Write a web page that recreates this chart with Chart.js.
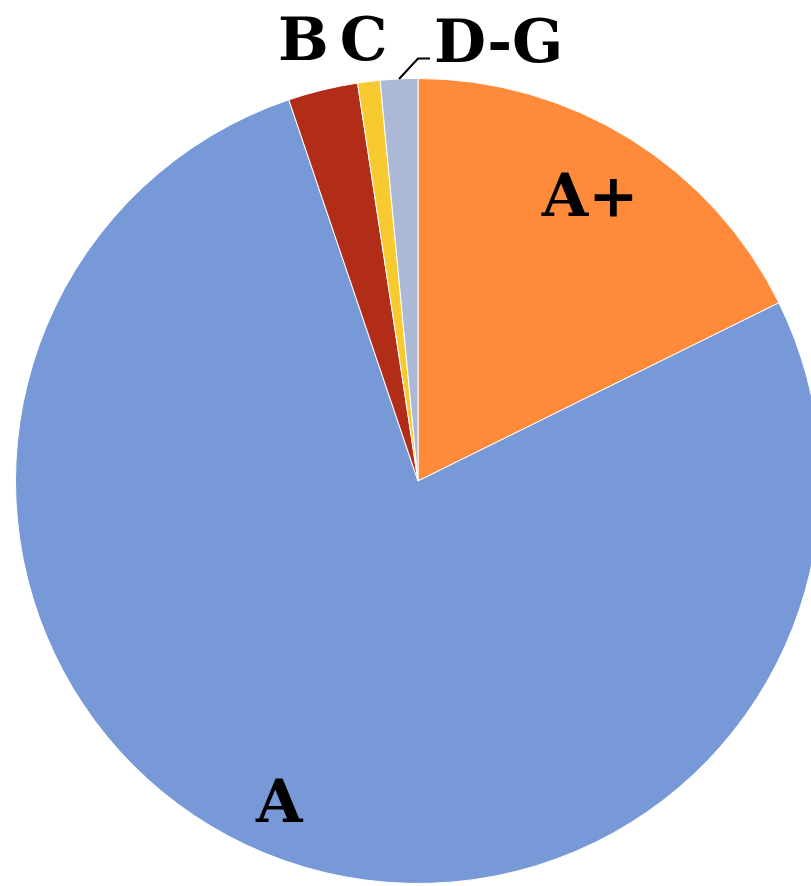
<!DOCTYPE html>
<html>
<head>
<meta charset="utf-8">
<script src="https://cdn.jsdelivr.net/npm/chart.js@4"></script>
<style>
    html, body { margin: 0; padding: 0; background: #fff; overflow: hidden; }
    #caixa { position: absolute; left: 0; top: 0; width: 836px; height: 886px; }
</style>
</head>
<body>
<div id="caixa"><canvas id="graficoPizza"></canvas></div>
<script>
// dados do gráfico (porcentagem de cada nota)
const notas = ['A+', 'A', 'B', 'C', 'D-G'];
const porcentagens = [17.7, 77.1, 2.8, 0.9, 1.5];
const cores = ['#FF8A3A', '#7799D8', '#B22D18', '#F7CA2F', '#ABB8D6'];

// onde cada rótulo fica: dentro da fatia, fora, ou fora com linha guia
const posicaoRotulo = {
    'A+': { tipo: 'dentro', raio: 0.82, dx: -2, dy: 0 },
    'A': { tipo: 'dentro', raio: 0.875, dx: -4, dy: 0 },
    'B': { tipo: 'fora', raio: 1.13, dx: -7, dy: 5 },
    'C': { tipo: 'fora', raio: 1.105, dx: 0, dy: 5 },
    'D-G': { tipo: 'guia' }
};

// plugin que escreve os rótulos
const pluginRotulos = {
    id: 'rotulos',
    afterDatasetsDraw(chart) {
        const ctx = chart.ctx;
        const arcos = chart.getDatasetMeta(0).data;
        ctx.save();
        ctx.font = 'bold 60px "DejaVu Serif"';
        ctx.fillStyle = '#000';
        ctx.strokeStyle = '#000';

        for (let i = 0; i < arcos.length; i++) {
            const arco = arcos[i];
            const meio = (arco.startAngle + arco.endAngle) / 2;
            const config = posicaoRotulo[notas[i]];

            if (config.tipo == 'guia') {
                // linha guia saindo da borda da fatia
                const x0 = arco.x + Math.cos(meio) * arco.outerRadius;
                const y0 = arco.y + Math.sin(meio) * arco.outerRadius;
                const x1 = arco.x;
                const y1 = arco.y - arco.outerRadius - 20;
                ctx.lineWidth = 2;
                ctx.beginPath();
                ctx.moveTo(x0, y0);
                ctx.lineTo(x1, y1);
                ctx.lineTo(x1 + 12, y1);
                ctx.stroke();
                ctx.textAlign = 'left';
                ctx.textBaseline = 'alphabetic';
                ctx.fillText(notas[i], x1 + 16, y1 + 3);
            } else {
                const r = arco.outerRadius * config.raio;
                ctx.textAlign = 'center';
                ctx.textBaseline = 'middle';
                ctx.fillText(notas[i], arco.x + Math.cos(meio) * r + config.dx, arco.y + Math.sin(meio) * r + config.dy);
            }
        }
        ctx.restore();
    }
};

const configPizza = {
    type: 'pie',
    data: {
        labels: notas,
        datasets: [{
            data: porcentagens,
            backgroundColor: cores,
            borderColor: '#ffffff',
            borderWidth: 1
        }]
    },
    options: {
        responsive: true,
        maintainAspectRatio: false,
        animation: false,
        layout: {
            padding: { left: 15, right: 15, top: 78, bottom: 2 }
        },
        plugins: {
            legend: { display: false },
            tooltip: { enabled: false }
        }
    },
    plugins: [pluginRotulos]
};

let graficoPizza = new Chart(
    document.getElementById('graficoPizza'),
    configPizza
);
</script>
</body>
</html>
